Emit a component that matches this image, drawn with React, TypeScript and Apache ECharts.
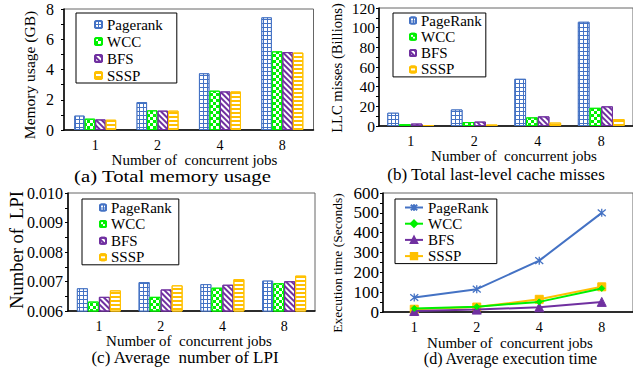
import React, { useEffect, useRef } from "react";
import * as echarts from "echarts";

const FONT = "Liberation Serif, Times New Roman, serif";

const jobs = ["1", "2", "4", "8"];

// (a) Total memory usage (GB)
const memPagerank = [0.95, 1.85, 3.75, 7.45];
const memWCC = [0.75, 1.3, 2.6, 5.2];
const memBFS = [0.7, 1.28, 2.55, 5.15];
const memSSSP = [0.68, 1.28, 2.55, 5.12];

// (b) LLC misses (Billions)
const llcPageRank = [13.5, 16.8, 48, 106];
const llcWCC = [1.8, 4, 8.8, 18.5];
const llcBFS = [2.5, 4.5, 9.8, 20];
const llcSSSP = [1, 1.5, 3.5, 7];

// (c) Average number of LPI
const lpiPageRank = [0.00677, 0.00698, 0.00691, 0.00703];
const lpiWCC = [0.00632, 0.00648, 0.00679, 0.00694];
const lpiBFS = [0.00648, 0.00673, 0.00689, 0.00701];
const lpiSSSP = [0.0067, 0.00687, 0.00708, 0.0072];

// (d) Average execution time (Seconds)
const timePageRank = [73, 115, 259, 500];
const timeWCC = [18, 27, 51, 119];
const timeBFS = [5, 12, 24, 51];
const timeSSSP = [14, 25, 64, 127];

const BLUE = "#4472C4";
const GREEN = "#00F000";
const PURPLE = "#7030A0";
const YELLOW = "#FFC000";

const decalGrid = { symbol: "rect", symbolSize: 1, dashArrayX: [3, 1], dashArrayY: [3, 1], color: "#ffffff" };
const decalCheck = { symbol: "rect", symbolSize: 1, dashArrayX: [[3, 3], [0, 3, 3, 0]], dashArrayY: [3, 0], color: GREEN };
const decalDiag = { symbol: "rect", symbolSize: 1, dashArrayX: [1, 0], dashArrayY: [2, 1.2], rotation: Math.PI / 4, color: PURPLE };
const decalHoriz = { symbol: "rect", symbolSize: 1, dashArrayX: [1, 0], dashArrayY: [2, 2], color: YELLOW };

function barSeries(names: string[], values: number[][], width: number) {
  const styles = [
    { color: BLUE, borderColor: BLUE, borderWidth: 1, decal: decalGrid },
    { color: "#ffffff", borderColor: GREEN, borderWidth: 1, decal: decalCheck },
    { color: "#ffffff", borderColor: PURPLE, borderWidth: 1, decal: decalDiag },
    { color: "#ffffff", borderColor: YELLOW, borderWidth: 1, decal: decalHoriz },
  ];
  return names.map((n, i) => ({
    type: "bar",
    name: n,
    data: values[i],
    barWidth: width,
    barGap: "0%",
    itemStyle: styles[i],
  }));
}

function txt(text: string, x: number, y: number, size: number, rotation = 0, scaleX = 1) {
  return {
    type: "text",
    x,
    y,
    rotation,
    scaleX,
    silent: true,
    style: {
      text,
      fontSize: size,
      fontFamily: FONT,
      fill: "#000",
      align: "center",
      verticalAlign: "middle",
      textAlign: "center",
      textVerticalAlign: "middle",
    },
  };
}

function legendCfg(names: string[], left: number, top: number, padding: number[], iw: number, ih: number, gap: number, lh: number) {
  return {
    data: names,
    orient: "vertical",
    left,
    top,
    padding,
    itemWidth: iw,
    itemHeight: ih,
    itemGap: gap,
    borderColor: "#000",
    borderWidth: 1,
    backgroundColor: "#fff",
    selectedMode: false,
    textStyle: { fontFamily: FONT, fontSize: 15, color: "#000", lineHeight: lh },
  };
}

function xAxisCfg(margin: number) {
  return {
    type: "category",
    data: jobs,
    axisLine: { lineStyle: { color: "#000", width: 1.5 } },
    axisTick: { alignWithLabel: true, length: 3, lineStyle: { color: "#000" } },
    axisLabel: { color: "#000", fontFamily: FONT, fontSize: 14, margin },
  };
}

function yAxisCfg(min: number, max: number, interval: number, fontSize: number, margin: number, fmt?: (v: number) => string) {
  return {
    type: "value",
    min,
    max,
    interval,
    axisLine: { show: true, lineStyle: { color: "#000", width: 1.5 } },
    axisTick: { show: true, length: 3, lineStyle: { color: "#000" } },
    minorTick: { show: true, splitNumber: 2, length: 3, lineStyle: { color: "#000" } },
    splitLine: { show: false },
    axisLabel: { color: "#000", fontFamily: FONT, fontSize, margin, formatter: fmt },
  };
}

const gridBorder = { show: true, borderColor: "#666", borderWidth: 1 };

const namesA = ["Pagerank", "WCC", "BFS", "SSSP"];
const namesB = ["PageRank", "WCC", "BFS", "SSSP"];

const optionA = {
  animation: false,
  grid: { left: 64, top: 9, right: 319.5, bottom: 239, ...gridBorder },
  xAxis: xAxisCfg(8),
  yAxis: yAxisCfg(0, 8, 2, 16, 10),
  legend: legendCfg(namesA, 76, 13, [4, 14, 0, 18], 7, 7, 2, 15),
  series: barSeries(namesA, [memPagerank, memWCC, memBFS, memSSSP], 10.5),
  graphic: [
    txt("Memory usage (GB)", 29, 75, 15.5, Math.PI / 2),
    txt("Number of  concurrent jobs", 194.5, 160, 15),
    txt("(a) Total memory usage", 172.5, 176, 17, 0, 1.22),
  ],
};

const optionB = {
  animation: false,
  grid: { left: 379, top: 7, right: -2, bottom: 243, ...gridBorder },
  xAxis: xAxisCfg(8),
  yAxis: yAxisCfg(0, 120, 20, 15.5, 4),
  legend: legendCfg(namesB, 393, 13, [0, 4, 0, 16], 6, 6, 1.3, 14),
  series: barSeries(namesB, [llcPageRank, llcWCC, llcBFS, llcSSSP], 11.7),
  graphic: [
    txt("LLC misses (Billions)", 337, 68, 14.6, Math.PI / 2),
    txt("Number of  concurrent jobs", 514, 156, 15),
    txt("(b) Total last-level cache misses", 496, 174, 17),
  ],
};

const optionC = {
  animation: false,
  grid: { left: 68, top: 193, right: 318, bottom: 58, ...gridBorder },
  xAxis: xAxisCfg(8),
  yAxis: yAxisCfg(0.006, 0.01, 0.001, 16, 5, (v: number) => v.toFixed(3)),
  legend: legendCfg(namesB, 82, 199, [1, 7, 0, 17], 6, 6, 1.6, 14),
  series: barSeries(namesB, [lpiPageRank, lpiWCC, lpiBFS, lpiSSSP], 11),
  graphic: [
    txt("Number of  LPI", 17, 250, 18.5, Math.PI / 2),
    txt("Number of  concurrent jobs", 189, 341, 15),
    txt("(c) Average  number of LPI", 185, 357, 17),
  ],
};

const lineColors = [BLUE, GREEN, PURPLE, YELLOW];
const lineSymbols = ["path://M0,0L10,10M10,0L0,10M5,-1L5,11", "diamond", "triangle", "rect"];
const lineSizes = [8, 6, 9, 8];
const timeValues = [timePageRank, timeWCC, timeBFS, timeSSSP];

const optionD = {
  animation: false,
  grid: { left: 383, top: 193, right: -2, bottom: 57, ...gridBorder },
  xAxis: xAxisCfg(8),
  yAxis: yAxisCfg(0, 600, 100, 17, 4),
  legend: legendCfg(namesB, 395, 199, [1, 8, 0, 9], 18, 8, 1.2, 14),
  series: namesB.map((n, i) => ({
    type: "line",
    name: n,
    data: timeValues[i],
    symbol: lineSymbols[i],
    symbolSize: lineSizes[i],
    showAllSymbol: true,
    lineStyle: { color: lineColors[i], width: 2 },
    itemStyle: i === 0
      ? { color: "rgba(0,0,0,0)", borderColor: lineColors[i], borderWidth: 1.3 }
      : { color: lineColors[i], borderColor: lineColors[i], borderWidth: 1 },
    z: 10 - i,
  })),
  graphic: [
    txt("Execution time (Seconds)", 337, 263, 13.5, Math.PI / 2),
    txt("Number of  concurrent jobs", 510, 342.5, 15),
    txt("(d) Average execution time", 510.5, 358, 16),
  ],
};

const OPTIONS = [optionA, optionB, optionC, optionD];

function Panel({ option }: { option: any }) {
  const ref = useRef<HTMLDivElement>(null);
  useEffect(() => {
    if (!ref.current) return;
    const chart = echarts.init(ref.current, undefined, { renderer: "svg" });
    chart.setOption(option);
    return () => chart.dispose();
  }, [option]);
  return (
    <div
      ref={ref}
      style={{ position: "absolute", left: 0, top: 0, width: 633, height: 369 }}
    />
  );
}

export default function App() {
  return (
    <div
      style={{
        position: "fixed",
        left: 0,
        top: 0,
        width: 633,
        height: 369,
        background: "#fff",
        overflow: "hidden",
      }}
    >
      {OPTIONS.map((o, i) => (
        <Panel key={i} option={o} />
      ))}
    </div>
  );
}
